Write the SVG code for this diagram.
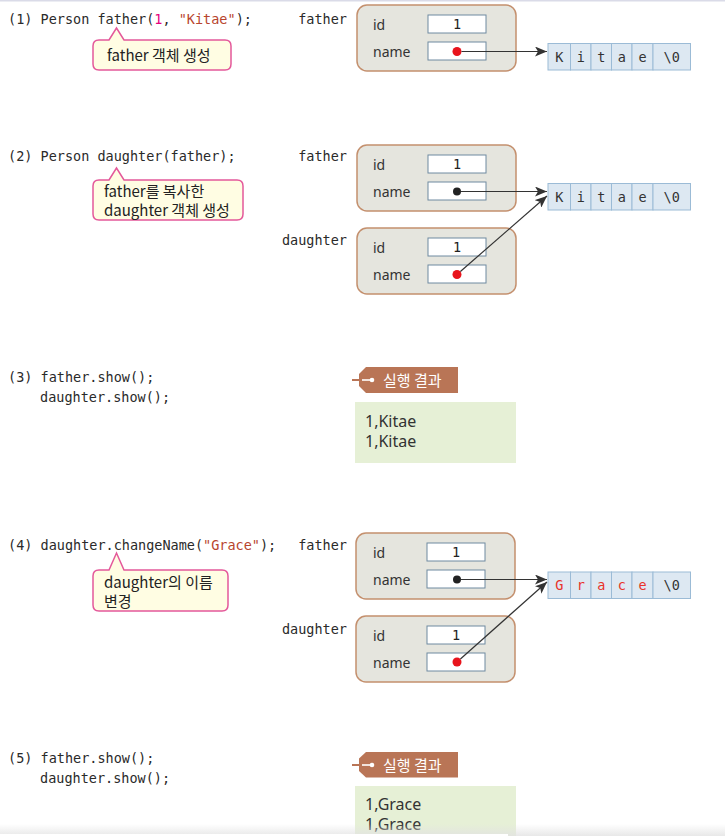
<svg xmlns="http://www.w3.org/2000/svg" width="725" height="836" viewBox="0 0 725 836">
<defs>
<style>
.code{font-family:"DejaVu Sans Mono","Liberation Mono",monospace;font-size:13.5px;fill:#2a2a2a}
.num{fill:#e6007e}
.str{fill:#b8452e}
.lbl{font-family:"DejaVu Sans Mono","Liberation Mono",monospace;font-size:13.5px;fill:#2a2a2a;text-anchor:end}
.obj{fill:#e5e5de;stroke:#c4906e;stroke-width:1.5}
.fld{fill:#fff;stroke:#6f8aa0;stroke-width:1}
.fn{font-family:"Noto Sans","Liberation Sans",sans-serif;font-size:14px;fill:#333}
.fv{font-family:"DejaVu Sans Mono","Liberation Mono",monospace;font-size:13.5px;fill:#222;text-anchor:middle}
.cell{fill:#dde8f2;stroke:#9bbbd6;stroke-width:1}
.ch{font-family:"DejaVu Sans Mono","Liberation Mono",monospace;font-size:13.5px;fill:#333;text-anchor:middle}
.red{fill:#e8332a}
.call{fill:#fffde3;stroke:#e4589a;stroke-width:1.5}
.ct{font-family:"Noto Sans CJK KR","Noto Sans",sans-serif;font-size:15px;fill:#222}
.tag{fill:#b97556}
.tt{font-family:"Noto Sans CJK KR","Noto Sans",sans-serif;font-size:15px;fill:#fff}
.out{fill:#e6f0d6}
.ot{font-family:"Noto Sans","Liberation Sans",sans-serif;font-size:16px;fill:#333}
.rdot{fill:#e8141c}
.bdot{fill:#222}
.con{stroke:#333;stroke-width:1.2;fill:none;marker-end:url(#ah)}
</style>
<marker id="ah" viewBox="0 0 12 10" refX="12" refY="5" markerWidth="12" markerHeight="10" markerUnits="userSpaceOnUse" orient="auto">
<path d="M0,0 L12,5 L0,10 L3,5 Z" fill="#333"/>
</marker>
<linearGradient id="shade" x1="0" y1="0" x2="0" y2="1">
<stop offset="0" stop-color="#e2e2e2" stop-opacity="0"/>
<stop offset="1" stop-color="#e2e2e2" stop-opacity="0.8"/>
</linearGradient>
</defs>
<rect x="0" y="0" width="725" height="836" fill="#fff"/>
<rect x="0" y="0" width="725" height="1.5" fill="#dadbe8"/>

<!-- Step 1 -->
<g id="code1"><text class="code" x="8" y="24">(1) Person father(<tspan class="num">1</tspan>, <tspan class="str">"Kitae"</tspan>);</text></g>
<g id="callout1">
<path class="call" d="M99,40 H109 L116.5,28 L124,40 H225 Q231,40 231,46 V64 Q231,70 225,70 H99 Q93,70 93,64 V46 Q93,40 99,40 Z"/>
<text class="ct" x="107" y="61">father 객체 생성</text>
</g>
<g id="father1">
<text class="lbl" x="347" y="24">father</text>
<rect class="obj" x="357" y="5" width="159" height="66" rx="10"/>
<text class="fn" x="373" y="30">id</text>
<text class="fn" x="373" y="57">name</text>
<rect class="fld" x="428" y="15" width="58" height="18"/>
<text class="fv" x="457" y="29">1</text>
<rect class="fld" x="428" y="42" width="58" height="18"/>
<circle class="rdot" cx="457" cy="51.5" r="4.5"/>
</g>
<g id="str1">
<rect class="cell" x="548" y="43.5" width="22.5" height="26.5"/>
<rect class="cell" x="570.5" y="43.5" width="20.5" height="26.5"/>
<rect class="cell" x="591" y="43.5" width="20.5" height="26.5"/>
<rect class="cell" x="611.5" y="43.5" width="20.5" height="26.5"/>
<rect class="cell" x="632" y="43.5" width="21" height="26.5"/>
<rect class="cell" x="653" y="43.5" width="37.5" height="26.5"/>
<text class="ch" x="559.2" y="61.5">K</text>
<text class="ch" x="580.7" y="61.5">i</text>
<text class="ch" x="601.2" y="61.5">t</text>
<text class="ch" x="621.7" y="61.5">a</text>
<text class="ch" x="642.5" y="61.5">e</text>
<text class="ch" x="671.7" y="61.5">\0</text>
</g>

<!-- Step 2 -->
<g id="code2"><text class="code" x="8" y="161">(2) Person daughter(father);</text></g>
<g id="callout2">
<path class="call" d="M99,180 H109 L116.5,168 L124,180 H237 Q243,180 243,186 V214 Q243,220 237,220 H99 Q93,220 93,214 V186 Q93,180 99,180 Z"/>
<text class="ct" x="104" y="197">father를 복사한</text>
<text class="ct" x="104" y="216">daughter 객체 생성</text>
</g>
<g id="father2">
<text class="lbl" x="347" y="161">father</text>
<rect class="obj" x="357" y="145" width="159" height="66" rx="10"/>
<text class="fn" x="373" y="170">id</text>
<text class="fn" x="373" y="197">name</text>
<rect class="fld" x="428" y="155" width="58" height="18"/>
<text class="fv" x="457" y="169">1</text>
<rect class="fld" x="428" y="182" width="58" height="18"/>
<circle class="bdot" cx="457" cy="191.5" r="4"/>
</g>
<g id="daughter2">
<text class="lbl" x="347" y="245">daughter</text>
<rect class="obj" x="357" y="228" width="159" height="66" rx="10"/>
<text class="fn" x="373" y="253">id</text>
<text class="fn" x="373" y="280">name</text>
<rect class="fld" x="428" y="238" width="58" height="18"/>
<text class="fv" x="457" y="252">1</text>
<rect class="fld" x="428" y="265" width="58" height="18"/>
<circle class="rdot" cx="457" cy="274.5" r="4.5"/>
</g>
<g id="str2">
<rect class="cell" x="548" y="183.5" width="22.5" height="26.5"/>
<rect class="cell" x="570.5" y="183.5" width="20.5" height="26.5"/>
<rect class="cell" x="591" y="183.5" width="20.5" height="26.5"/>
<rect class="cell" x="611.5" y="183.5" width="20.5" height="26.5"/>
<rect class="cell" x="632" y="183.5" width="21" height="26.5"/>
<rect class="cell" x="653" y="183.5" width="37.5" height="26.5"/>
<text class="ch" x="559.2" y="201.5">K</text>
<text class="ch" x="580.7" y="201.5">i</text>
<text class="ch" x="601.2" y="201.5">t</text>
<text class="ch" x="621.7" y="201.5">a</text>
<text class="ch" x="642.5" y="201.5">e</text>
<text class="ch" x="671.7" y="201.5">\0</text>
</g>

<!-- Step 3 -->
<g id="code3">
<text class="code" x="8" y="382">(3) father.show();</text>
<text class="code" x="40" y="402">daughter.show();</text>
</g>
<g id="result3">
<line x1="352" y1="380" x2="363" y2="380" stroke="#b97556" stroke-width="2"/>
<path class="tag" d="M366,367 H458 V393 H366 L359,386 V374 Z"/>
<line x1="362" y1="380" x2="371" y2="380" stroke="#fff" stroke-width="1.6"/>
<circle cx="372" cy="380" r="2.3" fill="#fff"/>
<text class="tt" x="383" y="386">실행 결과</text>
<rect class="out" x="355" y="402" width="161" height="61"/>
<text class="ot" x="365" y="427">1,Kitae</text>
<text class="ot" x="365" y="447">1,Kitae</text>
</g>

<!-- Step 4 -->
<g id="code4"><text class="code" x="8" y="550">(4) daughter.changeName(<tspan class="str">"Grace"</tspan>);</text></g>
<g id="callout4">
<path class="call" d="M99,570 H109 L116.5,553 L124,570 H222 Q228,570 228,576 V605 Q228,611 222,611 H99 Q93,611 93,605 V576 Q93,570 99,570 Z"/>
<text class="ct" x="104" y="588">daughter의 이름</text>
<text class="ct" x="104" y="607">변경</text>
</g>
<g id="father4">
<text class="lbl" x="347" y="550">father</text>
<rect class="obj" x="356" y="533" width="159" height="66" rx="10"/>
<text class="fn" x="373" y="558">id</text>
<text class="fn" x="373" y="585">name</text>
<rect class="fld" x="427" y="543" width="58" height="18"/>
<text class="fv" x="456" y="557">1</text>
<rect class="fld" x="427" y="570" width="58" height="18"/>
<circle class="bdot" cx="457" cy="579.5" r="4"/>
</g>
<g id="daughter4">
<text class="lbl" x="347" y="634">daughter</text>
<rect class="obj" x="356" y="616" width="159" height="66" rx="10"/>
<text class="fn" x="373" y="641">id</text>
<text class="fn" x="373" y="668">name</text>
<rect class="fld" x="427" y="626" width="58" height="18"/>
<text class="fv" x="456" y="640">1</text>
<rect class="fld" x="427" y="653" width="58" height="18"/>
<circle class="rdot" cx="457" cy="662" r="4.5"/>
</g>
<g id="str4">
<rect class="cell" x="548" y="572" width="22.5" height="26.5"/>
<rect class="cell" x="570.5" y="572" width="20.5" height="26.5"/>
<rect class="cell" x="591" y="572" width="20.5" height="26.5"/>
<rect class="cell" x="611.5" y="572" width="20.5" height="26.5"/>
<rect class="cell" x="632" y="572" width="21" height="26.5"/>
<rect class="cell" x="653" y="572" width="37.5" height="26.5"/>
<text class="ch red" x="559.2" y="590">G</text>
<text class="ch red" x="580.7" y="590">r</text>
<text class="ch red" x="601.2" y="590">a</text>
<text class="ch red" x="621.7" y="590">c</text>
<text class="ch red" x="642.5" y="590">e</text>
<text class="ch" x="671.7" y="590">\0</text>
</g>

<!-- Step 5 -->
<g id="code5">
<text class="code" x="8" y="763">(5) father.show();</text>
<text class="code" x="40" y="783">daughter.show();</text>
</g>
<g id="result5">
<line x1="352" y1="765" x2="363" y2="765" stroke="#b97556" stroke-width="2"/>
<path class="tag" d="M366,752 H458 V777.5 H366 L359,771 V758.5 Z"/>
<line x1="362" y1="765" x2="371" y2="765" stroke="#fff" stroke-width="1.6"/>
<circle cx="372" cy="765" r="2.3" fill="#fff"/>
<text class="tt" x="383" y="771">실행 결과</text>
<rect class="out" x="355" y="786" width="161" height="52"/>
<text class="ot" x="365" y="810">1,Grace</text>
<text class="ot" x="365" y="830">1,Grace</text>
</g>

<!-- Connectors -->
<g id="connectors">
<line class="con" x1="461.5" y1="51.5" x2="547" y2="51.5"/>
<line class="con" x1="461" y1="191.5" x2="547" y2="191.5"/>
<line class="con" x1="460.4" y1="271.5" x2="547" y2="196"/>
<line class="con" x1="461" y1="579.5" x2="547" y2="579.5"/>
<line class="con" x1="460.4" y1="659" x2="547" y2="582"/>
</g>

<rect x="0" y="824" width="725" height="12" fill="url(#shade)"/>
<rect x="0" y="834" width="508" height="2" fill="#fff"/>
</svg>
